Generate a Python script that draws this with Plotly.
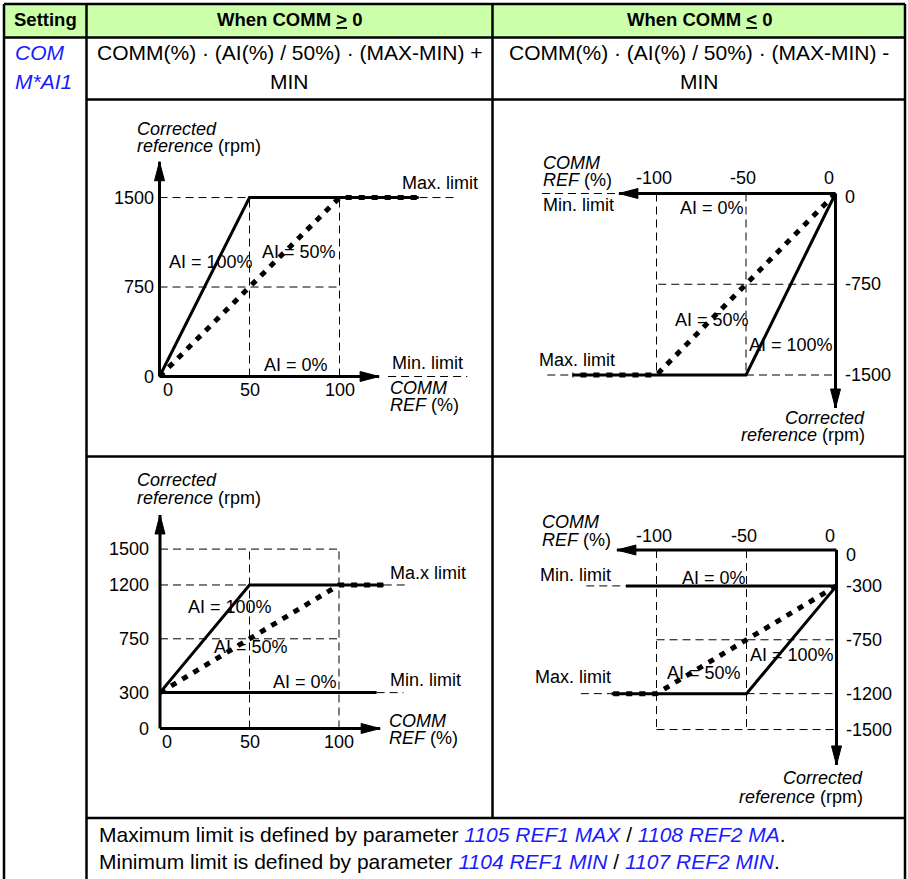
import plotly.graph_objects as go

W, H = 908, 879
FONT = "Liberation Sans, Arial, Helvetica, sans-serif"
BLUE = "#1a1aff"
GREEN = "#ccffaa"
BODY = 21
SMALL = 18

# ---------------- data ----------------
headers = ["Setting", "When COMM <u>&gt;</u> 0", "When COMM <u>&lt;</u> 0"]
setting_lines = ["COM", "M*AI1"]
formula_pos = ["COMM(%) · (AI(%) / 50%) · (MAX-MIN) +", "MIN"]
formula_neg = ["COMM(%) · (AI(%) / 50%) · (MAX-MIN) -", "MIN"]
footer_words = ["Maximum", "Minimum"]
footer_ref1 = ["1105 REF1 MAX", "1104 REF1 MIN"]
footer_ref2 = ["1108 REF2 MA", "1107 REF2 MIN"]

# chart 1: COMM >= 0, min 0 / max 1500
c1_xticks = [0, 50, 100]
c1_yticks = [0, 750, 1500]
c1_ai100_x = [0, 50, 100, 144]
c1_ai100_y = [0, 1500, 1500, 1500]
c1_ai50_x = [0, 100, 144]
c1_ai50_y = [0, 1500, 1500]
c1_guides = [(0, 750, 100, 750), (0, 1500, 166, 1500), (50, 0, 50, 1500),
             (100, 0, 100, 1500), (127, 0, 171, 0)]
c1_axis_end = (122, 1800)

# chart 2: COMM <= 0, min 0 / max -1500
c2_xticks = [0, -50, -100]
c2_yticks = [0, -750, -1500]
c2_ai100_x = [0, -50, -100, -147]
c2_ai100_y = [0, -1500, -1500, -1500]
c2_ai50_x = [0, -100, -147]
c2_ai50_y = [0, -1500, -1500]
c2_guides = [(-99, -750, 0, -750), (-50, -1500, 0, -1500), (-100, 0, -100, -1500),
             (-50, 0, -50, -1500), (-164, 0, -121, 0), (-161, -1500, -147, -1500)]
c2_axis_end = (-121, -1773)

# chart 3: COMM >= 0, min 300 / max 1200
c3_xticks = [0, 50, 100]
c3_yticks = [0, 300, 750, 1200, 1500]
c3_ai100_x = [0, 50, 100, 125]
c3_ai100_y = [300, 1200, 1200, 1200]
c3_ai50_x = [0, 100, 125]
c3_ai50_y = [300, 1200, 1200]
c3_ai0_x = [0, 121]
c3_ai0_y = [300, 300]
c3_guides = [(0, 1500, 100, 1500), (0, 750, 100, 750), (0, 1200, 50, 1200),
             (125, 1200, 138, 1200), (50, 0, 50, 1500), (100, 0, 100, 1500),
             (121, 300, 136, 300)]
c3_axis_end = (123, 1785)

# chart 4: COMM <= 0, min -300 / max -1200
c4_xticks = [0, -50, -100]
c4_yticks = [0, -300, -750, -1200, -1500]
c4_ai100_x = [0, -50, -100, -125]
c4_ai100_y = [-300, -1200, -1200, -1200]
c4_ai50_x = [0, -100, -125]
c4_ai50_y = [-300, -1200, -1200]
c4_ai0_x = [0, -117]
c4_ai0_y = [-300, -300]
c4_guides = [(-100, -750, 0, -750), (-50, -1200, 0, -1200), (-100, -1500, 0, -1500),
             (-100, 0, -100, -1500), (-50, 0, -50, -1500), (-139, -300, -117, -300),
             (-142, -1200, -125, -1200)]
c4_axis_end = (-122, -1796)

# ---------------- layout geometry (pixels) ----------------
cells = [(86.5, 99.5, 492.5, 456.5), (492.5, 99.5, 905, 456.5),
         (86.5, 456.5, 492.5, 818), (492.5, 456.5, 905, 818)]
origins = [(159.5, 376.5), (835.5, 193.5), (160, 728.5), (836.5, 550)]
scales = [(1.8, 0.1193), (1.79, 0.121), (1.79, 0.1196), (1.8, 0.1197)]


def px(x):
    return x / W


def py(y):
    return 1 - y / H


fig = go.Figure()
layout_axes = {}
for i, ((L, T, R, B), (ox, oy), (sx, sy)) in enumerate(zip(cells, origins, scales), start=1):
    k = "" if i == 1 else str(i)
    layout_axes["xaxis" + k] = dict(domain=[px(L), px(R)], range=[(L - ox) / sx, (R - ox) / sx],
                                    visible=False, fixedrange=True, anchor="y" + k)
    layout_axes["yaxis" + k] = dict(domain=[py(B), py(T)], range=[(oy - B) / sy, (oy - T) / sy],
                                    visible=False, fixedrange=True, anchor="x" + k)


def seg_trace(segs, ax, ay, **line):
    xs, ys = [], []
    for x0, y0, x1, y1 in segs:
        xs += [x0, x1, None]
        ys += [y0, y1, None]
    return go.Scatter(x=xs, y=ys, mode="lines", xaxis=ax, yaxis=ay, line=line,
                      hoverinfo="skip", showlegend=False)


def arrow_head(tip, direction, sx, sy, ax, ay, length=19, half=5):
    tx, ty = tip
    if direction in ("up", "down"):
        s = 1 if direction == "up" else -1
        xs = [tx, tx - half / sx, tx + half / sx, tx]
        ys = [ty, ty - s * length / sy, ty - s * length / sy, ty]
    else:
        s = 1 if direction == "right" else -1
        xs = [tx, tx - s * length / sx, tx - s * length / sx, tx]
        ys = [ty, ty + half / sy, ty - half / sy, ty]
    return go.Scatter(x=xs, y=ys, mode="lines", fill="toself", fillcolor="black",
                      line=dict(color="black", width=1), xaxis=ax, yaxis=ay,
                      hoverinfo="skip", showlegend=False)


charts = [
    (c1_guides, c1_ai100_x, c1_ai100_y, c1_ai50_x, c1_ai50_y, None, None, c1_axis_end),
    (c2_guides, c2_ai100_x, c2_ai100_y, c2_ai50_x, c2_ai50_y, None, None, c2_axis_end),
    (c3_guides, c3_ai100_x, c3_ai100_y, c3_ai50_x, c3_ai50_y, c3_ai0_x, c3_ai0_y, c3_axis_end),
    (c4_guides, c4_ai100_x, c4_ai100_y, c4_ai50_x, c4_ai50_y, c4_ai0_x, c4_ai0_y, c4_axis_end),
]

for i, (guides, a1x, a1y, a5x, a5y, a0x, a0y, (ex, ey)) in enumerate(charts, start=1):
    ax = "x" if i == 1 else "x" + str(i)
    ay = "y" if i == 1 else "y" + str(i)
    sx, sy = scales[i - 1]
    fig.add_trace(seg_trace(guides, ax, ay, color="black", width=1, dash="8px,5px"))
    if a0x is not None:
        fig.add_trace(go.Scatter(x=a0x, y=a0y, mode="lines", xaxis=ax, yaxis=ay,
                                 line=dict(color="black", width=3), hoverinfo="skip", showlegend=False))
    fig.add_trace(go.Scatter(x=a1x, y=a1y, mode="lines", xaxis=ax, yaxis=ay,
                             line=dict(color="black", width=3), hoverinfo="skip", showlegend=False))
    fig.add_trace(go.Scatter(x=a5x, y=a5y, mode="lines", xaxis=ax, yaxis=ay,
                             line=dict(color="black", width=5, dash="6px,7px"),
                             hoverinfo="skip", showlegend=False))
    # axes with arrows
    fig.add_trace(seg_trace([(0, 0, ex, 0), (0, 0, 0, ey)], ax, ay, color="black", width=3))
    fig.add_trace(arrow_head((ex, 0), "right" if ex > 0 else "left", sx, sy, ax, ay))
    fig.add_trace(arrow_head((0, ey), "up" if ey > 0 else "down", sx, sy, ax, ay))

annotations = []


def txt(text, x, y, size=SMALL, anchor="left", color="black", **kw):
    annotations.append(dict(text=text, x=px(x), y=py(y), xref="paper", yref="paper",
                            xanchor=anchor, yanchor="middle", showarrow=False,
                            font=dict(family=FONT, size=size, color=color), **kw))


def tick(text, x, y, ax, ay, anchor, xshift=0, yshift=0):
    annotations.append(dict(text=text, x=x, y=y, xref=ax, yref=ay, xanchor=anchor,
                            yanchor="middle", showarrow=False, xshift=xshift, yshift=yshift,
                            font=dict(family=FONT, size=SMALL, color="black")))


# tick labels
for t in c1_xticks:
    tick(str(t), t, 0, "x", "y", "center", xshift=8 if t == 0 else 0, yshift=-13)
for t in c1_yticks:
    tick(str(t), 0, t, "x", "y", "right", xshift=-4)
for t in c2_xticks:
    tick(str(t), t, 0, "x2", "y2", "center", xshift=-7 if t == 0 else -3, yshift=16)
for t in c2_yticks:
    tick(str(t), 0, t, "x2", "y2", "left", xshift=7, yshift=-3 if t == 0 else 0)
for t in c3_xticks:
    tick(str(t), t, 0, "x3", "y3", "center", xshift=7 if t == 0 else 0, yshift=-13)
for t in c3_yticks:
    tick(str(t), 0, t, "x3", "y3", "right", xshift=-9)
for t in c4_xticks:
    tick(str(t), t, 0, "x4", "y4", "center", xshift=-7 if t == 0 else -3, yshift=14)
for t in c4_yticks:
    tick(str(t), 0, t, "x4", "y4", "left", xshift=7, yshift=-5 if t == 0 else 0)

# chart labels
txt("<i>Corrected</i>", 135, 129)
txt("<i>reference</i> (rpm)", 135, 146)
txt("Max. limit", 400, 183)
txt("AI = 100%", 167, 262)
txt("AI = 50%", 260, 252)
txt("AI = 0%", 262, 365)
txt("Min. limit", 390, 363)
txt("<i>COMM</i>", 388, 388)
txt("<i>REF</i> (%)", 388, 405)

txt("<i>COMM</i>", 541, 163)
txt("<i>REF</i> (%)", 541, 180)
txt("Min. limit", 541, 205)
txt("AI = 0%", 678, 208)
txt("AI = 50%", 673, 320)
txt("AI = 100%", 747, 345)
txt("Max. limit", 537, 360)
txt("<i>Corrected</i>", 867, 418, anchor="right")
txt("<i>reference</i> (rpm)", 867, 435, anchor="right")

txt("<i>Corrected</i>", 135, 480)
txt("<i>reference</i> (rpm)", 135, 498)
txt("Ma.x limit", 388, 573)
txt("AI = 100%", 186, 607)
txt("AI = 50%", 212, 647)
txt("AI = 0%", 271, 682)
txt("Min. limit", 388, 680)
txt("<i>COMM</i>", 387, 721)
txt("<i>REF</i> (%)", 387, 738)

txt("<i>COMM</i>", 540, 522)
txt("<i>REF</i> (%)", 540, 540)
txt("Min. limit", 538, 575)
txt("AI = 0%", 680, 578)
txt("AI = 100%", 748, 655)
txt("AI = 50%", 665, 673)
txt("Max. limit", 533, 677)
txt("<i>Corrected</i>", 865, 778, anchor="right")
txt("<i>reference</i> (rpm)", 865, 797, anchor="right")

# table text
txt("<b>" + headers[0] + "</b>", 45, 20, size=18.5, anchor="center")
txt("<b>" + headers[1] + "</b>", 289.5, 20, size=18.5, anchor="center")
txt("<b>" + headers[2] + "</b>", 699, 20, size=18.5, anchor="center")
for j, s in enumerate(setting_lines):
    txt("<i>" + s + "</i>", 13, 52 + 30 * j, size=BODY, color=BLUE)
for j, s in enumerate(formula_pos):
    txt(s, 289.5, 52 + 30 * j, size=BODY, anchor="center")
for j, s in enumerate(formula_neg):
    txt(s, 699, 52 + 30 * j, size=BODY, anchor="center")
for j in range(2):
    s = (footer_words[j] + " limit is defined by parameter "
         + "<span style='color:" + BLUE + "'><i>" + footer_ref1[j] + "</i></span> / "
         + "<span style='color:" + BLUE + "'><i>" + footer_ref2[j] + "</i></span>.")
    txt(s, 97, 834 + 27 * j, size=BODY)

# table shapes
shapes = [dict(type="rect", xref="paper", yref="paper", x0=px(4), x1=px(905), y0=py(37.5), y1=py(4),
               fillcolor=GREEN, line=dict(width=0), layer="below")]
lines = [(4, 4, 905, 4), (4, 37.5, 905, 37.5), (86.5, 99.5, 905, 99.5), (86.5, 456.5, 905, 456.5),
         (86.5, 818, 905, 818), (4, 4, 4, 879), (905, 4, 905, 879), (86.5, 4, 86.5, 879),
         (492.5, 4, 492.5, 818)]
for x0, y0, x1, y1 in lines:
    shapes.append(dict(type="line", xref="paper", yref="paper", x0=px(x0), x1=px(x1),
                       y0=py(y0), y1=py(y1), line=dict(color="black", width=2.5)))

fig.update_layout(width=W, height=H, margin=dict(l=0, r=0, t=0, b=0),
                  paper_bgcolor="white", plot_bgcolor="rgba(0,0,0,0)",
                  showlegend=False, shapes=shapes, annotations=annotations, **layout_axes)
fig.write_html("out.html", config={"displayModeBar": False, "staticPlot": True},
               post_script="document.body.style.margin='0px';document.body.style.padding='0px';"
                           "document.documentElement.style.overflow='hidden';")
